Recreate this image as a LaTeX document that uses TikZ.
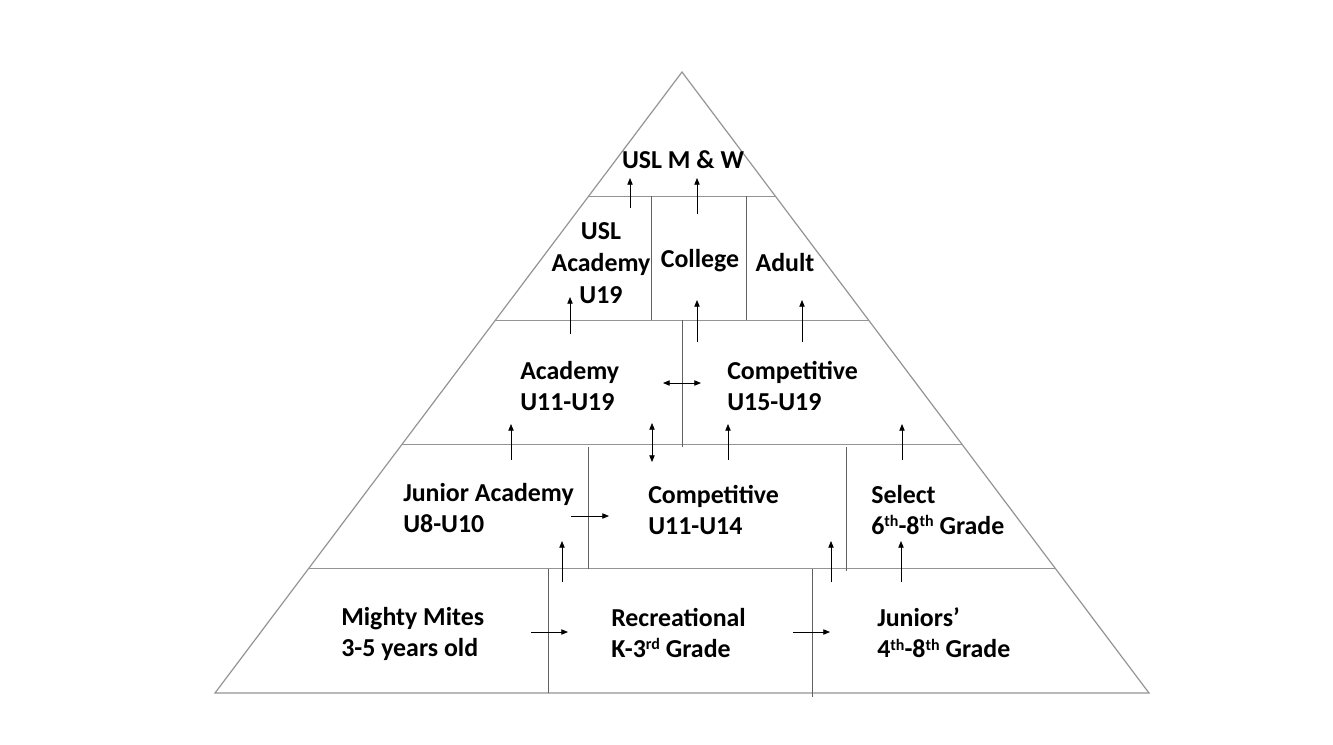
\documentclass[tikz,border=0pt]{standalone}
\usepackage{fontspec}
\setmainfont{Carlito}
\usetikzlibrary{arrows.meta,calc}
\newcommand\supx[1]{\raisebox{0.62ex}{\fontsize{12}{12}\selectfont #1}}
\begin{document}
\begin{tikzpicture}[x=0.75pt,y=-0.75pt,
  outline/.style={draw=black!42, line width=0.9pt},
  divider/.style={draw=black!62, line width=0.7pt},
  arr/.style={draw=black, line width=0.6pt, -{Triangle[length=5pt,width=4pt]}},
  darr/.style={draw=black, line width=0.6pt, {Triangle[length=5pt,width=4pt]}-{Triangle[length=5pt,width=4pt]}},
  lbl/.style={font=\bfseries\fontsize{19.4}{23.3}\selectfont, align=left, anchor=west, inner sep=0pt},
  clbl/.style={lbl, align=center, anchor=center}]
\useasboundingbox (0,0) rectangle (1333,744);
\coordinate (apex) at (682,72);
\coordinate (bl) at (215,693);
\coordinate (br) at (1149,693);
\draw[outline] (apex) -- (br) -- (bl) -- cycle;
\foreach \t in {0.2,0.4,0.6,0.8}
  \draw[outline] ($(apex)!\t!(bl)$) -- ($(apex)!\t!(br)$);
% dividers
\draw[divider] (651,196) -- (651,320);
\draw[divider] (746,196) -- (746,320);
\draw[divider] (682,320) -- (682,447);
\draw[divider] (588,447) -- (588,569);
\draw[divider] (846,447) -- (846,571);
\draw[divider] (548,569) -- (548,693);
\draw[divider] (812,569) -- (812,697);
% labels
\node[clbl] (usl) at (683,160) {USL M \& W};
\node[clbl, font=\bfseries\fontsize{19.4}{24}\selectfont] (usla) at (601,263) {USL\\Academy\\U19};
\node[clbl] (college) at (700,261) {College};
\node[clbl] (adult) at (785,263) {Adult};
\node[lbl] (acad) at (520,386) {Academy\\U11-U19};
\node[lbl] (comp1) at (727,386) {Competitive\\U15-U19};
\node[lbl] (jacad) at (403,508) {Junior Academy\\U8-U10};
\node[lbl] (comp2) at (648,510) {Competitive\\U11-U14};
\node[lbl] (select) at (871,510) {Select\\6\supx{th}-8\supx{th} Grade};
\node[lbl] (mighty) at (341,633.5) {Mighty Mites\\3-5 years old};
\node[lbl] (rec) at (611,633) {Recreational\\K-3\supx{rd} Grade};
\node[lbl] (jun) at (877,633) {Juniors’\\4\supx{th}-8\supx{th} Grade};
% arrow coordinates
\coordinate (a1s) at (630,208); \coordinate (a1e) at (630,178);
\coordinate (a2s) at (697,214); \coordinate (a2e) at (697,178);
\coordinate (a3s) at (570,334); \coordinate (a3e) at (570,297);
\coordinate (a4s) at (697,342); \coordinate (a4e) at (697,300);
\coordinate (a5s) at (802,342); \coordinate (a5e) at (802,300);
\coordinate (d1s) at (663,383); \coordinate (d1e) at (701,383);
\coordinate (d2s) at (652,423); \coordinate (d2e) at (652,462);
\coordinate (a6s) at (511,460); \coordinate (a6e) at (511,424);
\coordinate (a7s) at (728,460); \coordinate (a7e) at (728,424);
\coordinate (a8s) at (902,460); \coordinate (a8e) at (902,424);
\coordinate (a9s) at (571,516); \coordinate (a9e) at (609,516);
\coordinate (a10s) at (562,582); \coordinate (a10e) at (562,541);
\coordinate (a11s) at (831,582); \coordinate (a11e) at (831,541);
\coordinate (a12s) at (901,582); \coordinate (a12e) at (901,541);
\coordinate (a13s) at (531,632); \coordinate (a13e) at (568,632);
\coordinate (a14s) at (793,632); \coordinate (a14e) at (830,632);
\foreach \n in {a1,a2,a3,a4,a5,a6,a7,a8,a9,a10,a11,a12,a13,a14}
  \draw[arr] (\n s) -- (\n e);
\draw[darr] (d1s) -- (d1e);
\draw[darr] (d2s) -- (d2e);
\end{tikzpicture}
\end{document}
